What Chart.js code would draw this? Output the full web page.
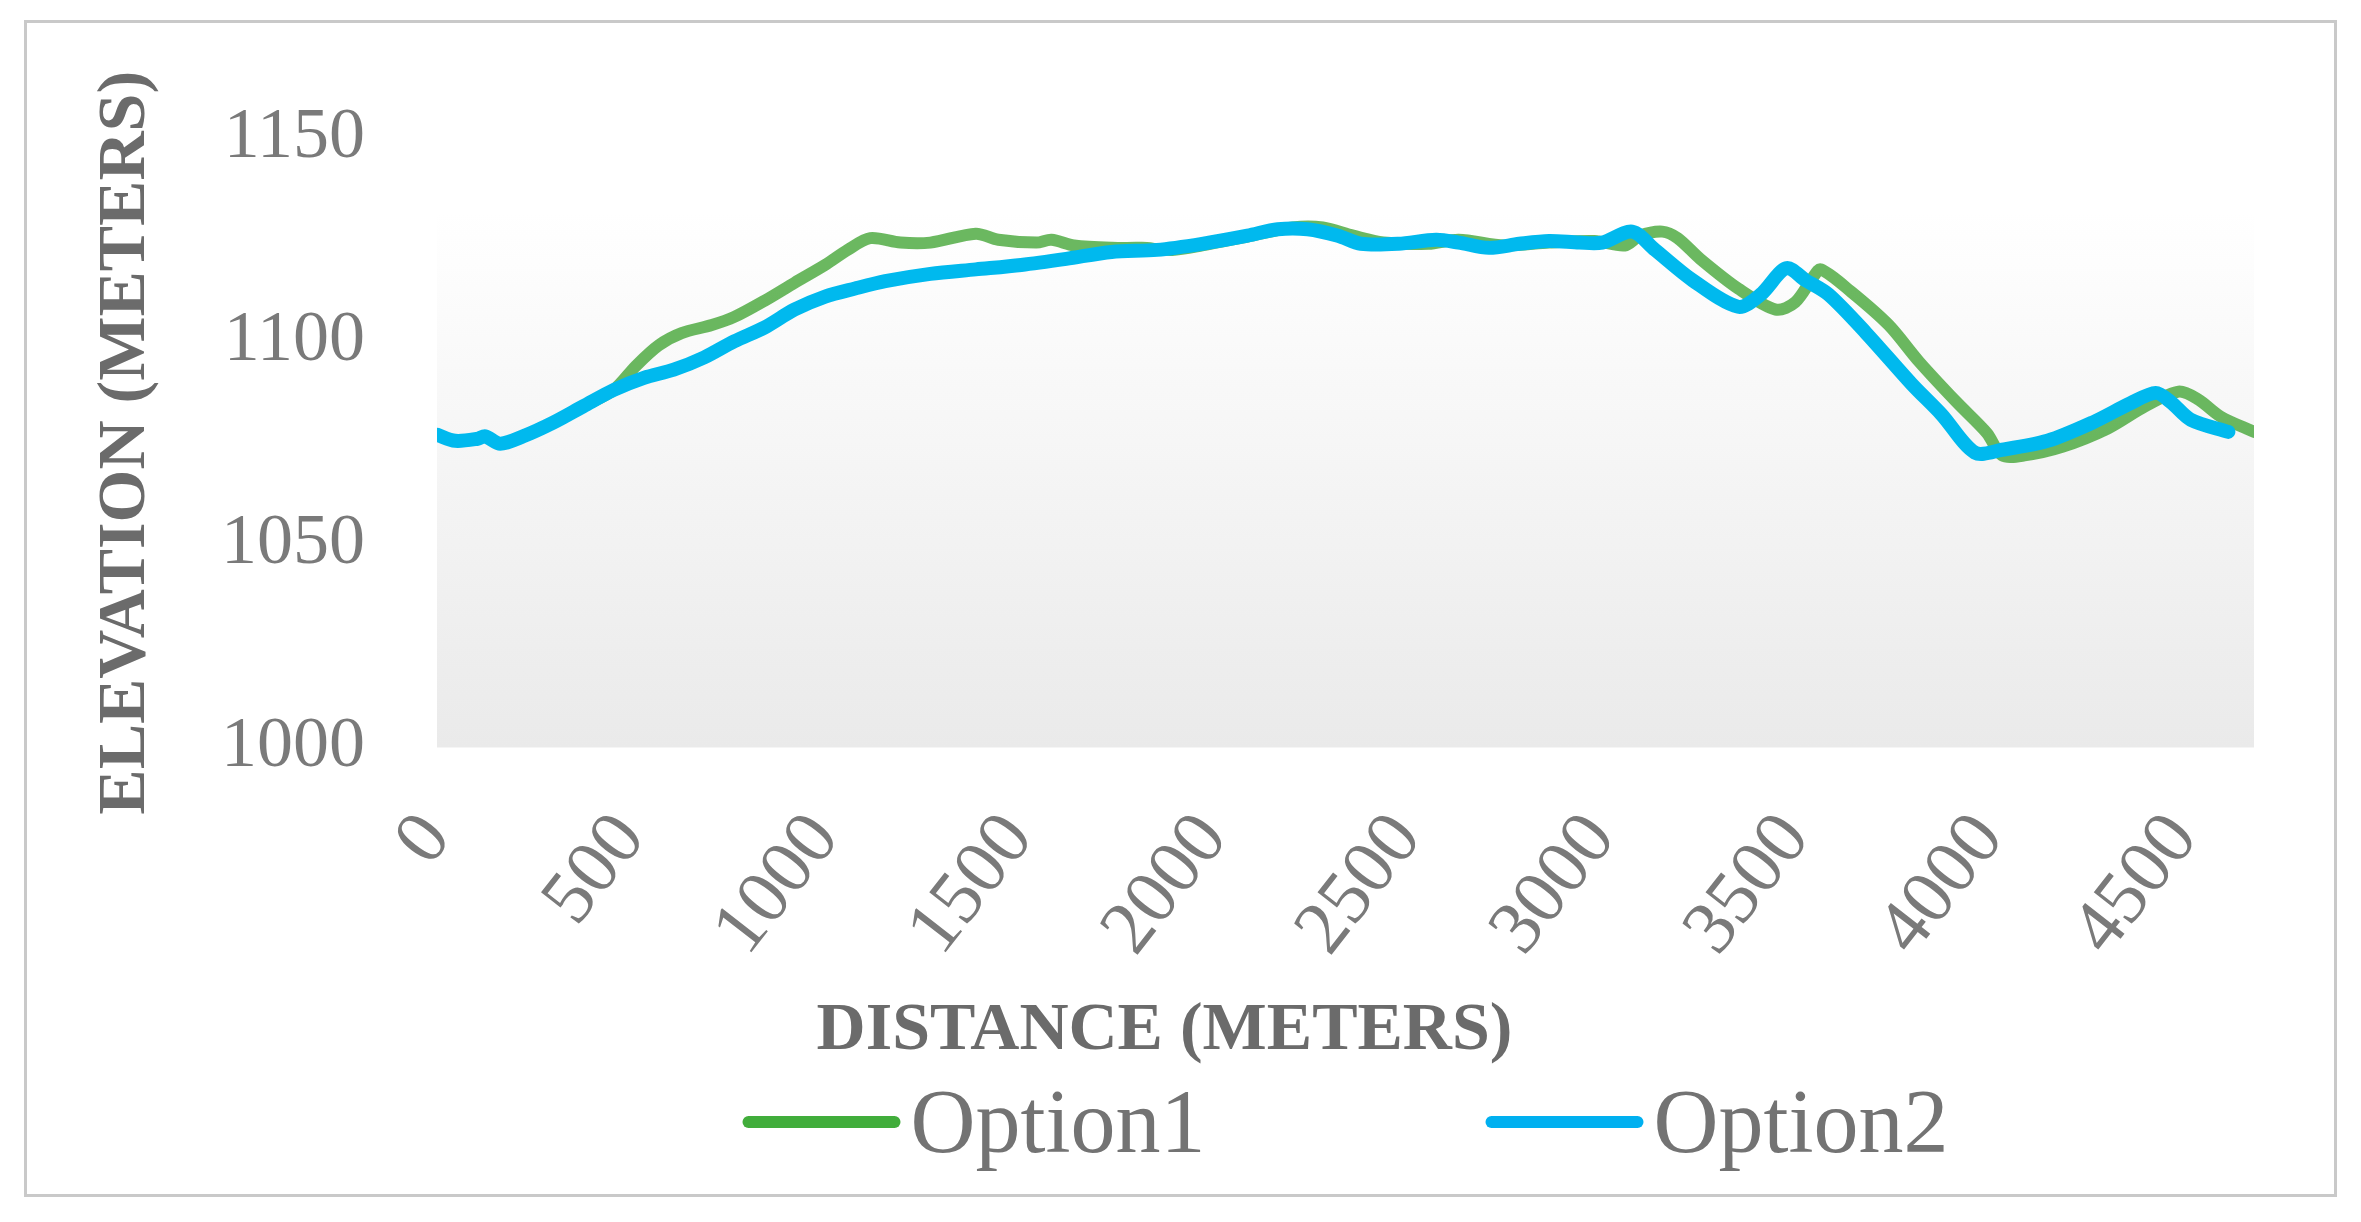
<!DOCTYPE html>
<html>
<head>
<meta charset="utf-8">
<title>Elevation profile</title>
<script src="https://cdn.jsdelivr.net/npm/chart.js@4.4.1/dist/chart.umd.min.js"></script>
<style>
  html, body { margin: 0; padding: 0; background: #fff; }
  #box {
    position: absolute; left: 24px; top: 20px;
    width: 2313px; height: 1177px;
    box-sizing: border-box; border: 3px solid #c9c9c9; background: #fff;
  }
</style>
</head>
<body>
<div id="box"><canvas id="myChart"></canvas></div>
<script>
// tick labels
const xTicks = [0, 500, 1000, 1500, 2000, 2500, 3000, 3500, 4000, 4500];
const yTicks = [1000, 1050, 1100, 1150];

// Option1 (green)
const dist1 = [0, 47, 105, 124, 163, 222, 300, 377, 455, 513, 571, 630, 708, 766, 844, 921,
  1000, 1058, 1116, 1194, 1271, 1388, 1446, 1544, 1583, 1641, 1738, 1816, 1894, 1971, 2088, 2204,
  2282, 2360, 2438, 2554, 2632, 2749, 2865, 2982, 3060, 3099, 3157, 3196, 3254, 3352, 3449, 3499,
  3546, 3565, 3643, 3740, 3818, 3915, 3993, 4032, 4090, 4187, 4304, 4401, 4487, 4537, 4596, 4681];
const elev1 = [1077, 1075.5, 1076, 1076.6, 1074.8, 1076.6, 1080, 1084, 1088, 1094, 1099, 1102, 1104, 1106, 1110, 1114.4,
  1118.8, 1122.5, 1125.4, 1124.3, 1124.3, 1126.5, 1125, 1124.3, 1125, 1123.6, 1123, 1123, 1122.5, 1123.6, 1125.8, 1128,
  1128, 1126, 1124.3, 1124, 1125, 1123.6, 1124.3, 1124.7, 1123.6, 1126, 1127, 1125.4, 1120.3, 1113, 1107.8, 1109.6,
  1115.9, 1117.7, 1112.2, 1104, 1095, 1085, 1077.4, 1071.9, 1071.9, 1074, 1078.5, 1084, 1087.6, 1085.7, 1081.4, 1077.7];

// Option2 (blue)
const dist2 = [0, 47, 105, 124, 163, 222, 300, 377, 455, 533, 610, 688, 766, 844, 921, 1000, 1077,
  1155, 1271, 1388, 1505, 1621, 1738, 1855, 1971, 2088, 2166, 2243, 2321, 2380, 2477, 2574, 2632,
  2710, 2788, 2865, 2943, 3002, 3079, 3138, 3235, 3352, 3410, 3476, 3526, 3585, 3682, 3799, 3876,
  3962, 4032, 4149, 4265, 4362, 4428, 4467, 4518, 4615];
const elev2 = [1077, 1075.5, 1076, 1076.6, 1074.8, 1076.6, 1080, 1084, 1088, 1091, 1093, 1096, 1100, 1103.4, 1107.8, 1111, 1113,
  1114.8, 1116.6, 1117.7, 1118.8, 1120.3, 1122, 1122.5, 1124, 1126, 1127.6, 1127.6, 1126, 1124, 1124, 1125, 1124.3,
  1123, 1124, 1124.7, 1124.3, 1124.3, 1127, 1122.5, 1115, 1108.5, 1111.5, 1118, 1115, 1111.5, 1102, 1089.5, 1082,
  1072.6, 1073.3, 1075.5, 1080, 1084.7, 1087.3, 1085, 1080.7, 1077.7];

const serif = '"Liberation Serif", "DejaVu Serif", serif';
const shadeTop = 1132;

// soft grey fill behind the lines
const backdrop = {
  id: 'backdrop',
  beforeDatasetsDraw(chart) {
    const { ctx, chartArea: a, scales: { y } } = chart;
    const top = y.getPixelForValue(shadeTop);
    const g = ctx.createLinearGradient(0, top, 0, a.bottom);
    g.addColorStop(0, '#ffffff');
    g.addColorStop(1, '#eaeaea');
    ctx.save();
    ctx.fillStyle = g;
    ctx.fillRect(a.left, top, a.right - a.left, a.bottom - top);
    ctx.restore();
  }
};

// legend drawn like the original (short thick line + label)
const lineLegend = {
  id: 'lineLegend',
  afterDraw(chart) {
    const { ctx, chartArea: a } = chart;
    const sets = chart.data.datasets;
    ctx.save();
    ctx.font = '90px ' + serif;
    const lineLen = 158, gap = 10, space = 280;
    const widths = sets.map(ds => lineLen + gap + ctx.measureText(ds.label).width);
    const total = widths.reduce((s, w) => s + w, 0) + space * (sets.length - 1);
    let x = (a.left + a.right) / 2 - total / 2;
    const y = chart.height - 72;
    sets.forEach((ds, i) => {
      ctx.strokeStyle = ds.legendColor;
      ctx.lineWidth = 12;
      ctx.lineCap = 'round';
      ctx.beginPath();
      ctx.moveTo(x + 6, y);
      ctx.lineTo(x + lineLen - 6, y);
      ctx.stroke();
      ctx.fillStyle = '#737373';
      ctx.textBaseline = 'alphabetic';
      ctx.fillText(ds.label, x + lineLen + gap, y + 30);
      x += widths[i] + space;
    });
    ctx.restore();
  }
};

document.addEventListener('DOMContentLoaded', () => {
  Chart.defaults.font.family = serif;
  const ctx = document.getElementById('myChart').getContext('2d');
  const myChart = new Chart(ctx, {
    type: 'line',
    data: {
      datasets: [{
        label: 'Option1',
        data: dist1.map((d, i) => ({ x: d, y: elev1[i] })),
        borderColor: 'rgba(70,166,56,0.8)',
        legendColor: '#41ad3b',
        borderWidth: 12,
        borderCapStyle: 'round',
        borderJoinStyle: 'round',
        pointRadius: 0,
        tension: 0.3,
        order: 2
      }, {
        label: 'Option2',
        data: dist2.map((d, i) => ({ x: d, y: elev2[i] })),
        borderColor: '#00b9ee',
        legendColor: '#00b0f0',
        borderWidth: 14,
        borderCapStyle: 'round',
        borderJoinStyle: 'round',
        pointRadius: 0,
        tension: 0.3,
        order: 1
      }]
    },
    options: {
      responsive: true,
      maintainAspectRatio: false,
      animation: false,
      layout: { padding: { left: 48, right: 80, top: 105, bottom: 0 } },
      scales: {
        x: {
          type: 'linear',
          min: 0,
          max: 4681,
          afterBuildTicks: axis => { axis.ticks = xTicks.map(v => ({ value: v })); },
          grid: { display: false, drawTicks: false },
          border: { display: false },
          ticks: {
            color: '#7a7a7a',
            font: { size: 76 },
            minRotation: 52,
            maxRotation: 52,
            padding: 50,
            callback: v => String(v)
          }
        },
        y: {
          min: 1000,
          max: 1150,
          afterBuildTicks: axis => { axis.ticks = yTicks.map(v => ({ value: v })); },
          grid: { display: false, drawTicks: false },
          border: { display: false },
          ticks: {
            color: '#7a7a7a',
            font: { size: 72 },
            padding: 72,
            callback: v => String(v)
          },
          title: {
            display: true,
            text: 'ELEVATION (METERS)',
            color: '#6b6b6b',
            font: { size: 68, weight: 'bold', lineHeight: 1 },
            padding: { top: 17, bottom: -11 }
          }
        }
      },
      plugins: {
        legend: { display: false },
        tooltip: { enabled: false },
        title: {
          display: true,
          position: 'bottom',
          text: 'DISTANCE (METERS)',
          color: '#6b6b6b',
          font: { size: 68, weight: 'bold' },
          padding: { top: -33, bottom: 122 }
        }
      }
    },
    plugins: [backdrop, lineLegend]
  });
});
</script>
</body>
</html>
